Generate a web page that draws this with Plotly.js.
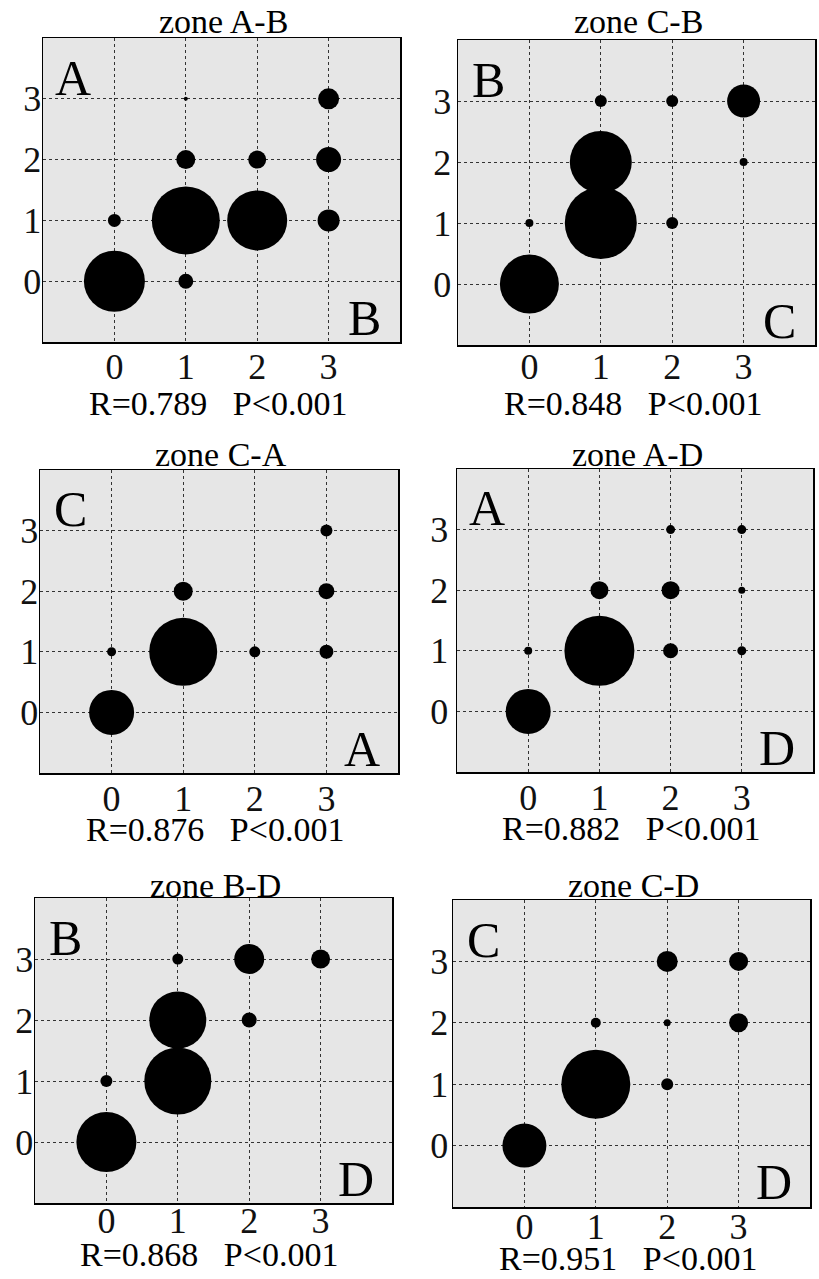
<!DOCTYPE html>
<html>
<head>
<meta charset="utf-8">
<script src="https://cdn.plot.ly/plotly-3.0.1.min.js"></script>
<style>html,body{margin:0;padding:0;background:#fff;}#chart{width:819px;height:1279px;}</style>
</head>
<body>
<div id="chart"></div>
<script>
// ---- data (bubble diameters, px) ----
const tickVals = [0, 1, 2, 3];
const tickText = ['0', '1', '2', '3'];

const titles = ['zone A-B', 'zone C-B', 'zone C-A', 'zone A-D', 'zone B-D', 'zone C-D'];
const stats  = ['R=0.789   P<0.001', 'R=0.848   P<0.001', 'R=0.876   P<0.001',
                'R=0.882   P<0.001', 'R=0.868   P<0.001', 'R=0.951   P<0.001'];
const cornerTL = ['A', 'B', 'C', 'A', 'B', 'C'];
const cornerBR = ['B', 'C', 'A', 'D', 'D', 'D'];

const abX = [0, 1, 0, 1, 2, 3, 1, 2, 3, 3, 1];
const abY = [0, 0, 1, 1, 1, 1, 2, 2, 2, 3, 3];
const abS = [61, 15, 13, 68, 60, 22, 19, 18, 25, 21, 4];

const cbX = [0, 0, 1, 2, 1, 3, 1, 2, 3];
const cbY = [0, 1, 1, 1, 2, 2, 3, 3, 3];
const cbS = [59, 8, 72, 12, 62, 8, 12, 12, 33];

const caX = [0, 0, 1, 2, 3, 1, 3, 3];
const caY = [0, 1, 1, 1, 1, 2, 2, 3];
const caS = [45, 9, 68, 11, 14, 19, 16, 12];

const adX = [0, 0, 1, 2, 3, 1, 2, 3, 2, 3];
const adY = [0, 1, 1, 1, 1, 2, 2, 2, 3, 3];
const adS = [45, 8, 70, 15, 9, 18, 18, 7, 9, 9];

const bdX = [0, 0, 1, 1, 2, 1, 2, 3];
const bdY = [0, 1, 1, 2, 2, 3, 3, 3];
const bdS = [60, 12, 67, 57, 15, 11, 30, 19];

const cdX = [0, 1, 2, 1, 2, 3, 2, 3];
const cdY = [0, 1, 1, 2, 2, 2, 3, 3];
const cdS = [44, 69, 12, 10, 7, 19, 21, 19];

const panelX = [abX, cbX, caX, adX, bdX, cdX];
const panelY = [abY, cbY, caY, adY, bdY, cdY];
const panelS = [abS, cbS, caS, adS, bdS, cdS];

// ---- layout geometry (pixels) ----
const W = 819, H = 1279;
const boxes = [
  [43, 400, 38, 342],
  [458, 815, 40, 345],
  [40, 398, 470, 773],
  [457, 813, 469, 772],
  [35, 392, 898, 1203],
  [453, 810, 900, 1207]
];
const titleY = [22, 22, 454, 454, 885, 885];
const statY  = [403, 403, 830, 828, 1254, 1258];
const xStand = [-8, -11, -7, -7, -15, -13];
const yStand = [-7, -2, -7, 0, -7, -4];

const serif = 'Liberation Serif, Times New Roman, serif';
const traces = [];
const layout = {
  width: W, height: H,
  margin: {l: 0, r: 0, t: 0, b: 0},
  paper_bgcolor: '#ffffff',
  plot_bgcolor: '#e6e6e6',
  showlegend: false,
  font: {family: serif, color: '#000'},
  annotations: []
};

for (let i = 0; i < 6; i++) {
  const n = i + 1;
  const xa = 'x' + (n === 1 ? '' : n), ya = 'y' + (n === 1 ? '' : n);
  const xk = 'xaxis' + (n === 1 ? '' : n), yk = 'yaxis' + (n === 1 ? '' : n);
  const b = boxes[i];
  traces.push({
    type: 'scatter', mode: 'markers',
    x: panelX[i], y: panelY[i],
    xaxis: xa, yaxis: ya,
    marker: {size: panelS[i], color: '#000', opacity: 1, line: {width: 0}},
    opacity: 1,
    hoverinfo: 'x+y'
  });
  const axCommon = {
    range: [-1, 4], tickmode: 'array', tickvals: tickVals, ticktext: tickText,
    showline: true, mirror: true, linecolor: '#000', linewidth: 1.5,
    showgrid: true, gridcolor: '#333', gridwidth: 1, griddash: 'dot',
    zeroline: false, ticks: '', fixedrange: true,
    tickfont: {family: serif, size: 36, color: '#111'}
  };
  layout[xk] = Object.assign({}, axCommon, {
    domain: [b[0] / W, b[1] / W], anchor: ya, ticklabelstandoff: xStand[i]
  });
  layout[yk] = Object.assign({}, axCommon, {
    domain: [1 - b[3] / H, 1 - b[2] / H], anchor: xa, ticklabelstandoff: yStand[i]
  });
  const cx = (b[0] + b[1]) / 2;
  layout.annotations.push({
    xref: 'paper', yref: 'paper', x: (cx + 2) / W, y: 1 - titleY[i] / H,
    text: titles[i], showarrow: false, xanchor: 'center', yanchor: 'middle',
    font: {family: serif, size: 34, color: '#000'}
  });
  layout.annotations.push({
    xref: 'paper', yref: 'paper', x: (cx - 4) / W, y: 1 - statY[i] / H,
    text: stats[i].replace(/ /g, '&nbsp;'), showarrow: false, xanchor: 'center', yanchor: 'middle',
    font: {family: serif, size: 34, color: '#000'}
  });
  layout.annotations.push({
    xref: xa + ' domain', yref: ya + ' domain', x: 0.085, y: 0.87,
    text: cornerTL[i], showarrow: false, xanchor: 'center', yanchor: 'middle',
    font: {family: serif, size: 50, color: '#000'}
  });
  layout.annotations.push({
    xref: xa + ' domain', yref: ya + ' domain', x: 0.9, y: 0.08,
    text: cornerBR[i], showarrow: false, xanchor: 'center', yanchor: 'middle',
    font: {family: serif, size: 50, color: '#000'}
  });
}

Plotly.newPlot('chart', traces, layout, {staticPlot: true, displayModeBar: false});
</script>
</body>
</html>
